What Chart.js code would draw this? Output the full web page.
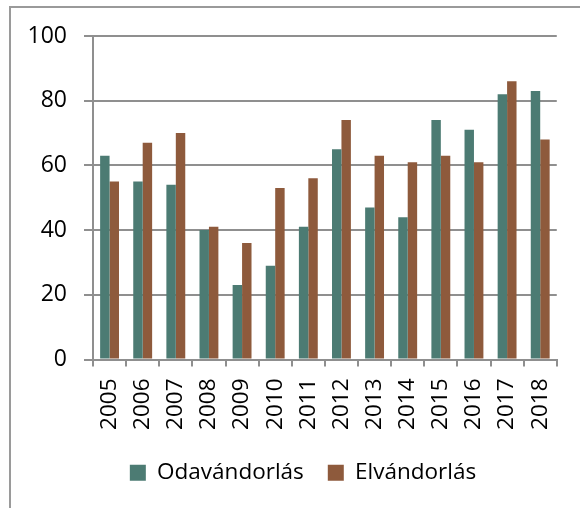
<html>
<head>
  <script src="https://cdn.jsdelivr.net/npm/chart.js@4.4.0/dist/chart.umd.min.js"></script>
  <style>
    body { margin: 0; background: #fff; }
    #frame {
      position: absolute;
      left: 9px;
      top: 6px;
      width: 600px;
      height: 600px;
      border: 2px solid #9a9a9a;
    }
    #chart {
      position: absolute;
      left: 0;
      top: 0;
    }
  </style>
</head>
<body>
  <div id="frame"></div>
  <canvas id="chart" width="580" height="508"></canvas>

  <script>
    // years on the x axis
    var years = ["2005", "2006", "2007", "2008", "2009", "2010", "2011",
                 "2012", "2013", "2014", "2015", "2016", "2017", "2018"];
    // series values
    var odavandorlas = [63, 55, 54, 40, 23, 29, 41, 65, 47, 44, 74, 71, 82, 83];
    var elvandorlas  = [55, 67, 70, 41, 36, 53, 56, 74, 63, 61, 63, 61, 86, 68];
    var yTicks = [0, 20, 40, 60, 80, 100];

    var fontFamily = "'Open Sans', sans-serif";
    var gridGray = "#8f8f8f";

    // the original legend sits a bit right of centre
    var legendShift = {
      id: "legendShift",
      afterLayout: function(chart) {
        chart.legend.left += 24;
        chart.legend.right += 24;
      }
    };

    var ctx = document.getElementById("chart").getContext("2d");
    var chart = new Chart(ctx, {
      type: "bar",
      data: {
        labels: years,
        datasets: [
          {
            label: "Odavándorlás",
            data: odavandorlas,
            backgroundColor: "#4c7b73"
          },
          {
            label: "Elvándorlás",
            data: elvandorlas,
            backgroundColor: "#8e5a3c"
          }
        ]
      },
      plugins: [legendShift],
      options: {
        responsive: false,
        animation: false,
        categoryPercentage: 0.57,
        barPercentage: 1.0,
        layout: {
          padding: { left: 0, right: 22, top: 36, bottom: 14 }
        },
        plugins: {
          tooltip: { enabled: false },
          legend: {
            position: "bottom",
            labels: {
              color: "#000",
              font: { family: fontFamily, size: 22.5 },
              boxWidth: 16,
              boxHeight: 16,
              padding: 24
            }
          }
        },
        scales: {
          x: {
            afterFit: function(scale) { scale.height = 78; },
            grid: {
              display: true,
              drawOnChartArea: false,
              color: gridGray,
              lineWidth: 2,
              tickLength: 7,
              offset: true
            },
            border: { display: true, color: gridGray, width: 2 },
            ticks: {
              color: "#000",
              font: { family: fontFamily, size: 22.5 },
              minRotation: 90,
              maxRotation: 90,
              padding: 12,
              autoSkip: false
            }
          },
          y: {
            min: 0,
            max: 100,
            afterFit: function(scale) { scale.width = 93; },
            afterBuildTicks: function(scale) {
              scale.ticks = yTicks.map(function(v) { return { value: v }; });
            },
            grid: {
              color: gridGray,
              lineWidth: 2,
              tickLength: 9
            },
            border: { display: true, color: gridGray, width: 2 },
            ticks: {
              color: "#000",
              font: { family: fontFamily, size: 23 },
              padding: 17
            }
          }
        }
      }
    });
  </script>
</body>
</html>
